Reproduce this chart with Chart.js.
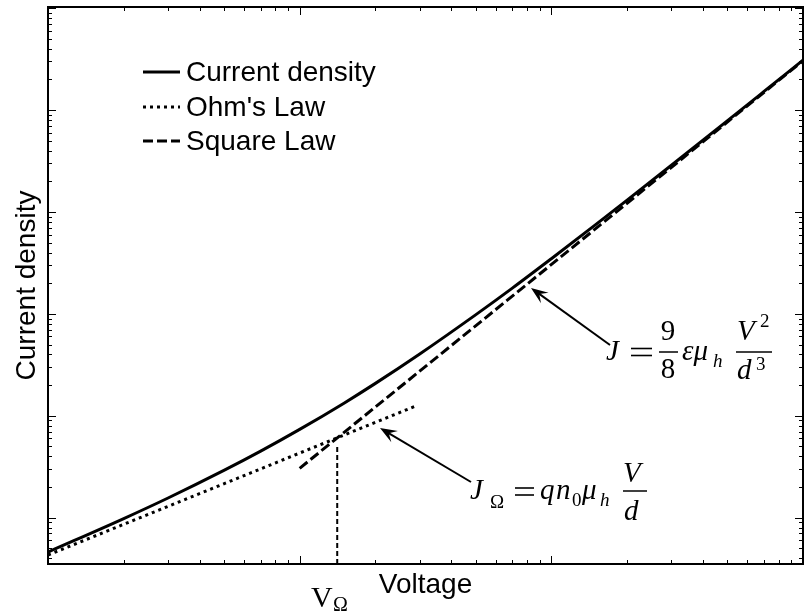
<!DOCTYPE html>
<html>
<head>
<meta charset="utf-8">
<title>Current density vs voltage</title>
<script src="https://cdn.jsdelivr.net/npm/chart.js@4.4.0/dist/chart.umd.min.js"></script>
<style>
  html, body { margin: 0; padding: 0; background: #fff; }
  #wrap { width: 805px; height: 615px; position: relative; }
</style>
</head>
<body>
<div id="wrap"><canvas id="jvChart"></canvas></div>
<script>
// J-V characteristic on log-log axes (arbitrary units)
var voltage = [1, 2, 3, 5, 7, 10, 15, 20, 30, 50, 70, 100, 150, 200, 300, 500, 700, 1000];
var currentDensity = [0.46, 0.98, 1.56, 2.91, 4.5, 7.35, 13.3, 20.8, 40.4, 97.8, 179, 348, 751, 1306, 2874, 7840, 15250, 30930];

// ohmic asymptote (slope 1)
var ohmVoltage = [1, 29];
var ohmCurrent = [0.43, 12.5];

// square law asymptote (slope 2)
var sqVoltage = [10, 1000];
var sqCurrent = [3.05, 30500];

// crossover voltage V_Omega
var crossVoltage = [14.1, 14.1];
var crossCurrent = [0.351, 5.0];

var xRange = [1, 1000];
var yRange = [0.351, 102800];

var legendNames = ['Current density', "Ohm's Law", 'Square Law'];

var SANS = '"Liberation Sans", Arial, Helvetica, sans-serif';
var SERIF = '"Liberation Serif", "Times New Roman", Times, serif';

function pts(xs, ys) {
  return xs.map(function (x, i) { return { x: x, y: ys[i] }; });
}

function logTicks(min, max) {
  var out = [];
  var k0 = Math.floor(Math.log10(min)), k1 = Math.ceil(Math.log10(max));
  for (var k = k0; k <= k1; k++) {
    for (var m = 1; m <= 9; m++) {
      var v = m * Math.pow(10, k);
      if (v >= min * 0.999 && v <= max * 1.001) out.push({ v: v, major: m === 1 });
    }
  }
  return out;
}

// box around the plot + inward log ticks on all four sides
var frameTicks = {
  id: 'frameTicks',
  afterDraw: function (chart) {
    var ctx = chart.ctx, a = chart.chartArea;
    var xs = chart.scales.x, ys = chart.scales.y;
    ctx.save();
    ctx.strokeStyle = '#000';
    ctx.lineWidth = 2;
    ctx.strokeRect(a.left, a.top, a.right - a.left, a.bottom - a.top);
    ctx.lineWidth = 1;
    ctx.beginPath();
    logTicks(xs.min, xs.max).forEach(function (t) {
      var px = Math.round(xs.getPixelForValue(t.v)) + 0.5;
      var len = t.major ? 8 : 4;
      ctx.moveTo(px, a.bottom); ctx.lineTo(px, a.bottom - len);
      ctx.moveTo(px, a.top); ctx.lineTo(px, a.top + len);
    });
    logTicks(ys.min, ys.max).forEach(function (t) {
      var py = Math.round(ys.getPixelForValue(t.v)) + 0.5;
      var len = t.major ? 8 : 4;
      ctx.moveTo(a.left, py); ctx.lineTo(a.left + len, py);
      ctx.moveTo(a.right, py); ctx.lineTo(a.right - len, py);
    });
    ctx.stroke();
    ctx.restore();
  }
};

// legend in the upper left of the plot
var lineLegend = {
  id: 'lineLegend',
  afterDraw: function (chart) {
    var ctx = chart.ctx;
    var rows = [72, 107, 141];
    ctx.save();
    legendNames.forEach(function (name, i) {
      var ds = chart.data.datasets[i];
      ctx.strokeStyle = ds.borderColor;
      ctx.lineWidth = ds.borderWidth;
      ctx.setLineDash(ds.borderDash || []);
      ctx.beginPath();
      ctx.moveTo(143, rows[i]);
      ctx.lineTo(180, rows[i]);
      ctx.stroke();
      ctx.setLineDash([]);
      ctx.fillStyle = '#000';
      ctx.font = '28px ' + SANS;
      ctx.textBaseline = 'middle';
      ctx.textAlign = 'left';
      ctx.fillText(name, 186, rows[i] + 1);
    });
    ctx.restore();
  }
};

function put(ctx, s, x, y, size, italic) {
  ctx.font = (italic ? 'italic ' : '') + size + 'px ' + SERIF;
  ctx.fillText(s, x, y);
}

function hline(ctx, x0, x1, y, w) {
  ctx.lineWidth = w;
  ctx.beginPath();
  ctx.moveTo(x0, y);
  ctx.lineTo(x1, y);
  ctx.stroke();
}

function arrow(ctx, x0, y0, x1, y1) {
  var dx = x1 - x0, dy = y1 - y0, d = Math.sqrt(dx * dx + dy * dy);
  var ux = dx / d, uy = dy / d, nx = -uy, ny = ux;
  var L = 17, W = 6.5;
  ctx.lineWidth = 2;
  ctx.beginPath();
  ctx.moveTo(x0, y0);
  ctx.lineTo(x1 - ux * 8, y1 - uy * 8);
  ctx.stroke();
  ctx.beginPath();
  ctx.moveTo(x1, y1);
  ctx.lineTo(x1 - ux * L + nx * W, y1 - uy * L + ny * W);
  ctx.lineTo(x1 - ux * L * 0.6, y1 - uy * L * 0.6);
  ctx.lineTo(x1 - ux * L - nx * W, y1 - uy * L - ny * W);
  ctx.closePath();
  ctx.fill();
}

// formulas, arrows and the V_Omega label
var notes = {
  id: 'notes',
  afterDraw: function (chart) {
    var ctx = chart.ctx;
    ctx.save();
    ctx.fillStyle = '#000';
    ctx.strokeStyle = '#000';
    ctx.textBaseline = 'alphabetic';
    ctx.textAlign = 'left';

    arrow(ctx, 610, 345, 531, 288);
    arrow(ctx, 471, 482, 380, 428);

    // J = 9/8 eps mu_h V^2/d^3
    put(ctx, 'J', 606, 360, 29, true);
    hline(ctx, 631, 652, 348.5, 1.6);
    hline(ctx, 631, 652, 355.5, 1.6);
    ctx.textAlign = 'center';
    put(ctx, '9', 668, 340, 29, false);
    put(ctx, '8', 668, 378, 29, false);
    ctx.textAlign = 'left';
    hline(ctx, 659, 678, 352, 1.5);
    put(ctx, '\u03b5\u03bc', 682, 360, 29, true);
    put(ctx, 'h', 713, 367, 19, true);
    hline(ctx, 736, 772, 352, 1.5);
    put(ctx, 'V', 737, 340, 29, true);
    put(ctx, '2', 760, 327, 19, false);
    put(ctx, 'd', 737, 379, 29, true);
    put(ctx, '3', 756, 370, 19, false);

    // J_Omega = q n_0 mu_h V/d
    put(ctx, 'J', 470, 499, 29, true);
    put(ctx, '\u03a9', 490, 508, 19, false);
    hline(ctx, 515, 534, 488, 1.6);
    hline(ctx, 515, 534, 495, 1.6);
    put(ctx, 'q', 540, 499, 29, true);
    put(ctx, 'n', 556, 499, 29, true);
    put(ctx, '0', 572, 506, 19, false);
    put(ctx, '\u03bc', 582, 499, 29, true);
    put(ctx, 'h', 600, 506, 19, true);
    hline(ctx, 623, 647, 491, 1.5);
    put(ctx, 'V', 623, 482, 29, true);
    put(ctx, 'd', 624, 520, 29, true);

    // V_Omega under the axis
    put(ctx, 'V', 311, 607, 30, false);
    put(ctx, '\u03a9', 333, 611, 20, false);
    ctx.restore();
  }
};

Chart.defaults.color = '#000';

var ctx = document.getElementById('jvChart').getContext('2d');
var jvChart = new Chart(ctx, {
  type: 'line',
  data: {
    datasets: [{
      label: legendNames[0],
      data: pts(voltage, currentDensity),
      borderColor: '#000',
      borderWidth: 3,
      cubicInterpolationMode: 'monotone',
      pointRadius: 0
    }, {
      label: legendNames[1],
      data: pts(ohmVoltage, ohmCurrent),
      borderColor: '#000',
      borderWidth: 3,
      borderDash: [3, 4],
      pointRadius: 0
    }, {
      label: legendNames[2],
      data: pts(sqVoltage, sqCurrent),
      borderColor: '#000',
      borderWidth: 3,
      borderDash: [10, 4],
      pointRadius: 0
    }, {
      label: 'V\u03a9',
      data: pts(crossVoltage, crossCurrent),
      borderColor: '#000',
      borderWidth: 2,
      borderDash: [5, 3],
      pointRadius: 0
    }]
  },
  options: {
    responsive: true,
    maintainAspectRatio: false,
    animation: false,
    layout: { padding: { top: 7, right: 2, bottom: 0, left: 0 } },
    plugins: {
      legend: { display: false },
      tooltip: { enabled: false }
    },
    scales: {
      x: {
        type: 'logarithmic',
        position: 'bottom',
        min: xRange[0],
        max: xRange[1],
        grid: { display: false, drawTicks: false },
        border: { display: false },
        ticks: { display: false },
        title: {
          display: true,
          text: 'Voltage',
          color: '#000',
          font: { family: SANS, size: 28 },
          padding: { top: 4.2, bottom: 13.2 }
        }
      },
      y: {
        type: 'logarithmic',
        position: 'left',
        min: yRange[0],
        max: yRange[1],
        grid: { display: false, drawTicks: false },
        border: { display: false },
        ticks: { display: false },
        title: {
          display: true,
          text: 'Current density',
          color: '#000',
          font: { family: SANS, size: 28 },
          padding: { top: 10.2, bottom: 4.2 }
        }
      }
    }
  },
  plugins: [frameTicks, lineLegend, notes]
});
</script>
</body>
</html>
